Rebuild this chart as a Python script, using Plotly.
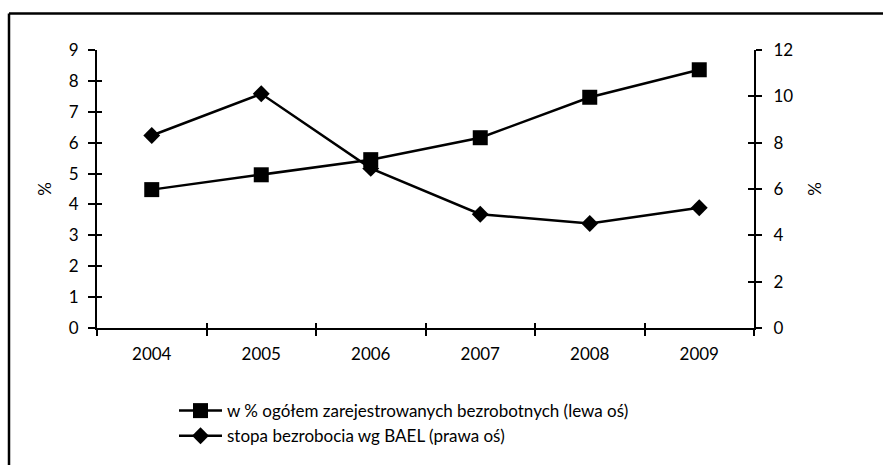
import plotly.graph_objects as go

years = ["2004", "2005", "2006", "2007", "2008", "2009"]
registered_share = [4.48, 4.96, 5.45, 6.16, 7.47, 8.36]
bael_rate = [8.31, 10.11, 6.89, 4.91, 4.51, 5.19]
name_left = "w % ogółem zarejestrowanych bezrobotnych (lewa oś)"
name_right = "stopa bezrobocia wg BAEL (prawa oś)"
left_ticks = list(range(0, 10))
right_ticks = list(range(0, 13, 2))

W, H = 883, 466
L, R, T, B = 97, 129, 50, 134
pw, ph = W - L - R, H - T - B
FONT = "Lato"

fig = go.Figure()
fig.add_trace(go.Scatter(
    x=years, y=registered_share, name=name_left, mode="lines+markers",
    line=dict(color="black", width=2.5),
    marker=dict(symbol="square", size=15, color="black"),
    xaxis="x", yaxis="y"))
fig.add_trace(go.Scatter(
    x=years, y=bael_rate, name=name_right, mode="lines+markers",
    line=dict(color="black", width=2.5),
    marker=dict(symbol="diamond", size=13, color="black"),
    xaxis="x", yaxis="y2"))
# invisible helper traces so the inner-tick overlay axes are drawn
fig.add_trace(go.Scatter(x=[None], y=[None], xaxis="x3", yaxis="y3",
                         showlegend=False, hoverinfo="skip"))
fig.add_trace(go.Scatter(x=[None], y=[None], xaxis="x3", yaxis="y4",
                         showlegend=False, hoverinfo="skip"))

tickfont = dict(family=FONT, size=17, color="black")
n = len(years)
fig.update_layout(
    width=W, height=H,
    margin=dict(l=L, r=R, t=T, b=B, pad=0),
    paper_bgcolor="white", plot_bgcolor="white",
    font=dict(family=FONT, size=17, color="black"),
    showlegend=True,
    legend=dict(x=(174 - L) / pw, y=-(398 - (T + ph)) / ph, xanchor="left", yanchor="top",
                bgcolor="rgba(0,0,0,0)", font=dict(family=FONT, size=17, color="black"),
                itemwidth=43, tracegroupgap=0, traceorder="normal"),
    xaxis=dict(type="category", categoryorder="array", categoryarray=years,
               range=[-0.5, n - 0.5], tickson="boundaries",
               ticks="outside", ticklen=6, tickwidth=1.5, tickcolor="black",
               showline=True, linecolor="black", linewidth=2, mirror=False,
               showgrid=False, zeroline=False, tickfont=tickfont, ticklabelstandoff=10),
    yaxis=dict(range=[0, 9], tickvals=left_ticks, ticks="outside", ticklen=7,
               tickwidth=1.5, tickcolor="black", showline=True, linecolor="black",
               linewidth=2, showgrid=False, zeroline=False, tickfont=tickfont,
               title=dict(text="%", font=dict(family=FONT, size=17), standoff=13),
               ticklabelstandoff=6),
    yaxis2=dict(range=[0, 12], tickvals=right_ticks, overlaying="y", side="right",
                ticks="outside", ticklen=6, tickwidth=1.5, tickcolor="black",
                showline=True, linecolor="black", linewidth=2, showgrid=False,
                zeroline=False, tickfont=tickfont,
                title=dict(text="%", font=dict(family=FONT, size=17), standoff=17),
                ticklabelstandoff=8),
    xaxis3=dict(overlaying="x", range=[-0.5, n - 0.5],
                tickvals=[i - 0.5 for i in range(n + 1)],
                ticks="inside", ticklen=5, tickwidth=1.5, tickcolor="black",
                showticklabels=False, showgrid=False, zeroline=False, showline=False),
    yaxis3=dict(overlaying="y", range=[0, 9], tickvals=left_ticks, side="left",
                anchor="x3", ticks="inside", ticklen=5, tickwidth=1.5, tickcolor="black",
                showticklabels=False, showgrid=False, zeroline=False, showline=False),
    yaxis4=dict(overlaying="y", range=[0, 12], tickvals=right_ticks, side="right",
                anchor="x3", ticks="inside", ticklen=6, tickwidth=1.5, tickcolor="black",
                showticklabels=False, showgrid=False, zeroline=False, showline=False),
    shapes=[
        dict(type="line", xref="paper", yref="paper",
             x0=(9 - L) / pw, x1=(W + 5 - L) / pw,
             y0=(H - B - 13) / ph, y1=(H - B - 13) / ph,
             line=dict(color="black", width=2.5)),
        dict(type="line", xref="paper", yref="paper",
             x0=(9 - L) / pw, x1=(9 - L) / pw,
             y0=(H - B - 13) / ph, y1=(H - B - H - 5) / ph,
             line=dict(color="black", width=2.5)),
    ],
)

fig.write_html("out.html", config={"displayModeBar": False},
               post_script="document.body.style.margin='0';document.body.style.overflow='hidden';")
